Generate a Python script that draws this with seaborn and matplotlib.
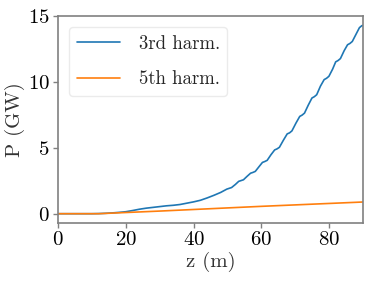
import pandas as pd
import matplotlib.pyplot as plt
import seaborn as sns

# values
z_3rd = [0, 10, 12, 14, 16, 18, 20, 22, 24, 26, 28, 30, 32, 34, 36, 38, 40, 42, 44, 46, 48,
         49.8, 50.5, 51.2, 52.3, 53.3, 54.0, 54.7, 55.8, 56.8, 57.5, 58.2, 59.3, 60.3, 61.0,
         61.7, 62.8, 63.9, 64.6, 65.3, 66.5, 67.6, 68.3, 69.0, 70.2, 71.3, 72.0, 72.7, 73.8,
         74.9, 75.6, 76.3, 77.4, 78.5, 79.2, 79.9, 81.0, 81.9, 82.6, 83.3, 84.4, 85.4, 86.1,
         86.8, 87.8, 88.9, 89.6, 90]
p_3rd = [0, 0, 0.01, 0.03, 0.06, 0.1, 0.15, 0.24, 0.34, 0.42, 0.48, 0.54, 0.6, 0.64, 0.7, 0.8,
         0.9, 1.02, 1.2, 1.4, 1.62,
         1.87, 1.93, 1.99, 2.22, 2.46, 2.52, 2.58, 2.85, 3.08, 3.14, 3.22, 3.58, 3.9, 3.97,
         4.06, 4.48, 4.85, 4.93, 5.05, 5.6, 6.07, 6.15, 6.3, 6.9, 7.4, 7.5, 7.65, 8.25,
         8.8, 8.9, 9.05, 9.7, 10.2, 10.3, 10.45, 11.0, 11.55, 11.65, 11.8, 12.4, 12.85, 12.95,
         13.1, 13.6, 14.15, 14.3, 14.32]

z_5th = [0, 12, 20, 30, 40, 50, 60, 70, 80, 90]
p_5th = [0, 0, 0.09, 0.2, 0.32, 0.44, 0.56, 0.67, 0.78, 0.89]

df = pd.concat([
    pd.DataFrame({'z': z_3rd, 'P': p_3rd, 'harm': '3rd harm.'}),
    pd.DataFrame({'z': z_5th, 'P': p_5th, 'harm': '5th harm.'}),
])

sns.set_style("ticks")
plt.rcParams['font.family'] = 'serif'
plt.rcParams['font.serif'] = ['cmr10', 'DejaVu Serif']
plt.rcParams['mathtext.fontset'] = 'cm'
plt.rcParams['axes.formatter.use_mathtext'] = True
plt.rcParams['axes.edgecolor'] = '0.5'
plt.rcParams['xtick.color'] = '0.5'
plt.rcParams['ytick.color'] = '0.5'
plt.rcParams['xtick.labelcolor'] = 'black'
plt.rcParams['ytick.labelcolor'] = 'black'

fig, ax = plt.subplots(figsize=(3.74, 2.81), dpi=100)
fig.subplots_adjust(left=0.155, right=0.971, top=0.943, bottom=0.206)

sns.lineplot(data=df, x='z', y='P', hue='harm', palette=['tab:blue', 'tab:orange'],
             linewidth=1.2, ax=ax)

ax.set_xlim(0, 90)
ax.set_xticks([0, 20, 40, 60, 80])
ax.set_yticks([0, 5, 10, 15])
ax.tick_params(labelsize=15, length=3.5, width=1, pad=2.5)
ax.set_xlabel('z (m)', fontsize=15, color='0.2', labelpad=2)
ax.set_ylabel('P (GW)', fontsize=15, color='0.2', labelpad=2)
for s in ax.spines.values():
    s.set_linewidth(1.2)

ax.legend(title=None, loc='upper left', fontsize=13.5, handlelength=2.3,
          handletextpad=1.0, labelspacing=0.95, borderaxespad=0.6,
          frameon=True, edgecolor='0.9')

fig.savefig('out.png', dpi=100)
